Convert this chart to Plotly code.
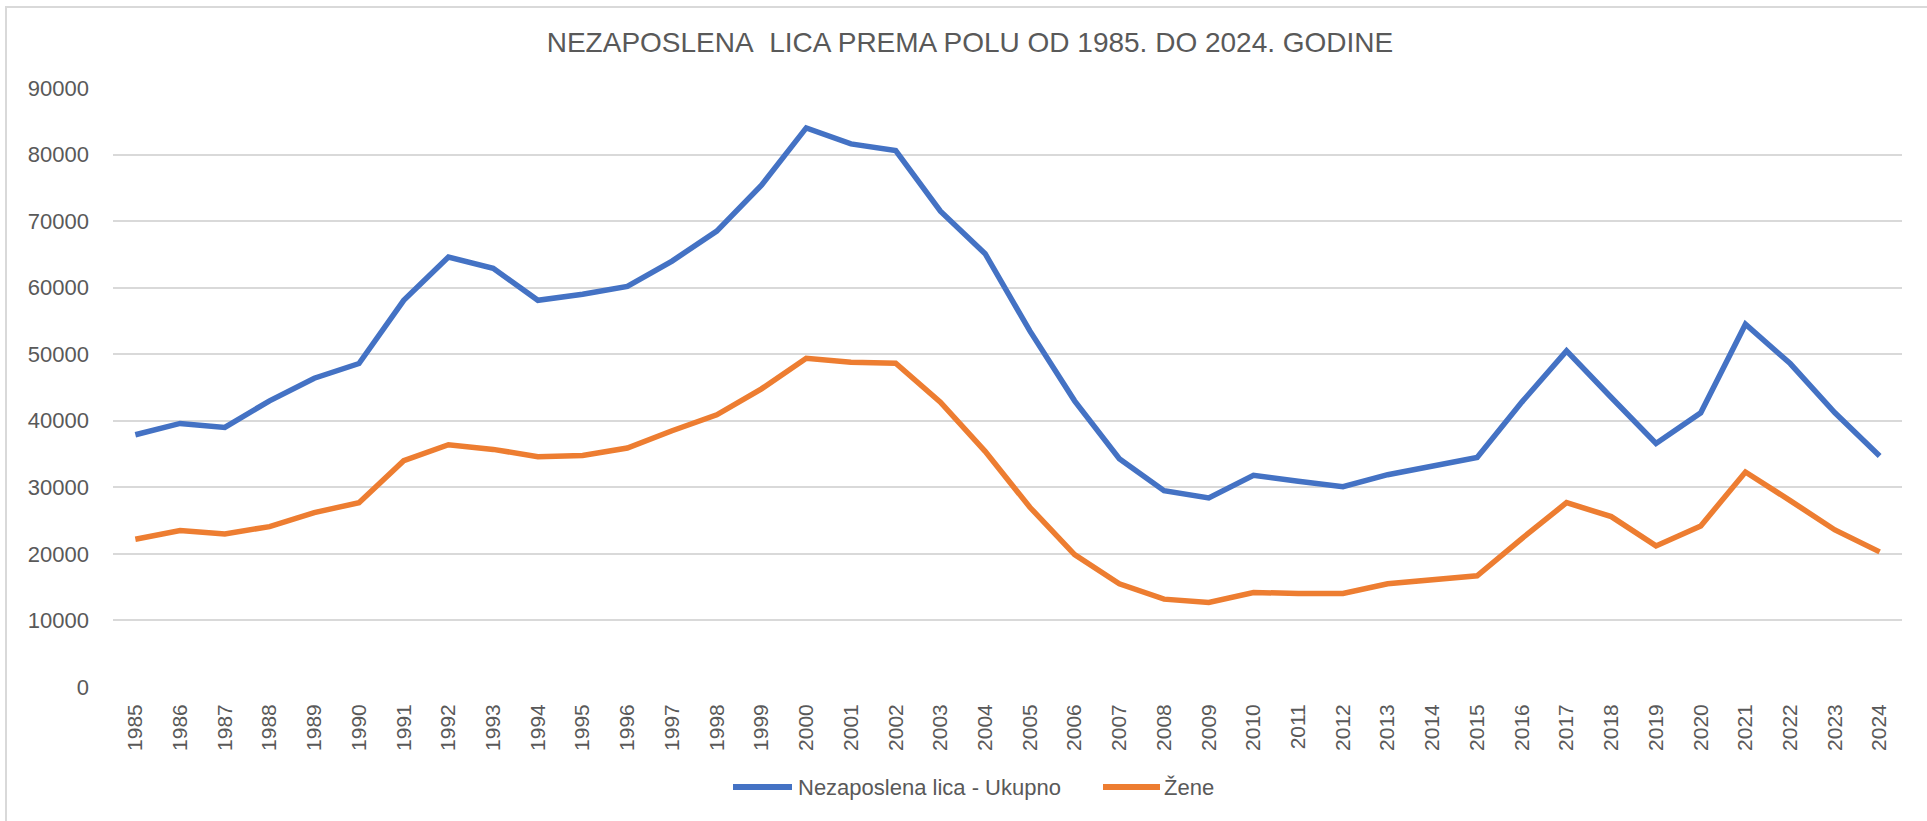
import plotly.graph_objects as go

years = [str(y) for y in range(1985, 2025)]

ukupno = [37900, 39600, 39000, 43000, 46400, 48600, 58100, 64600, 62900, 58100,
          59000, 60200, 64000, 68500, 75400, 84000, 81600, 80600, 71500, 65100,
          53500, 43000, 34300, 29500, 28400, 31800, 30900, 30100, 31900, 33300,
          34500, 42800, 50500, 43500, 36600, 41200, 54500, 48600, 41200, 34700]

zene = [22200, 23500, 23000, 24100, 26200, 27700, 34000, 36400, 35700, 34600,
        34800, 35900, 38500, 40900, 44800, 49400, 48800, 48650, 42800, 35400,
        27000, 19900, 15500, 13200, 12700, 14200, 14050, 14050, 15500, 16000,
        16700, 22300, 27700, 25600, 21200, 24200, 32300, 28000, 23600, 20300]

series_names = ["Nezaposlena lica - Ukupno", "Žene"]
colors = ["#4472C4", "#ED7D31"]

W, H = 1927, 821
L, R, T, B = 113, 1902, 88, 687

txt = "#595959"
font = "Liberation Sans, Arial"


def px(x):
    return (x - L) / (R - L)


def py(y):
    return (B - y) / (B - T)


fig = go.Figure()
for name, vals, c in zip(series_names, [ukupno, zene], colors):
    fig.add_trace(go.Scatter(x=years, y=vals, name=name, mode="lines",
                             line=dict(color=c, width=5.5, shape="linear"),
                             hoverinfo="x+y", showlegend=False))

# legend drawn manually (line key + text) to match the reference layout
legend_y = 787
legend_items = [(733, 792, 796), (1103, 1160, 1162)]
shapes = [dict(type="rect", xref="paper", yref="paper",
               x0=px(6), x1=px(W + 20), y0=py(H + 20), y1=py(7),
               line=dict(color="#D9D9D9", width=2), fillcolor="rgba(0,0,0,0)",
               layer="below")]
annotations = []
for (x0, x1, xt), name, c in zip(legend_items, series_names, colors):
    shapes.append(dict(type="line", xref="paper", yref="paper",
                       x0=px(x0), x1=px(x1), y0=py(legend_y), y1=py(legend_y),
                       line=dict(color=c, width=6)))
    annotations.append(dict(text=name, xref="paper", yref="paper",
                            x=px(xt), y=py(legend_y), xanchor="left",
                            yanchor="middle", showarrow=False,
                            font=dict(family=font, size=22, color=txt)))

fig.update_layout(
    width=W, height=H,
    margin=dict(l=L, r=W - R, t=T, b=H - B, pad=0, autoexpand=False),
    paper_bgcolor="white", plot_bgcolor="white",
    title=dict(text="NEZAPOSLENA&nbsp;&nbsp;LICA PREMA POLU OD 1985. DO 2024. GODINE",
               x=((549 + 1391) / 2) / W, xanchor="center",
               y=1 - 42 / H, yanchor="middle", yref="container",
               font=dict(family=font, size=28, color=txt)),
    xaxis=dict(type="category", range=[-0.5, 39.5], tickangle=-90,
               showgrid=False, showline=False, zeroline=False, ticks="",
               tickfont=dict(family=font, size=21, color=txt),
               ticklabelstandoff=12, automargin=False),
    yaxis=dict(range=[0, 90000], dtick=10000, tickformat="d",
               showgrid=True, gridcolor="#D9D9D9", gridwidth=2,
               zeroline=False, showline=False, ticks="",
               tickfont=dict(family=font, size=22, color=txt),
               ticklabelstandoff=23, automargin=False),
    showlegend=False,
    shapes=shapes,
    annotations=annotations,
)

fig.write_html("out.html",
               config={"displayModeBar": False},
               post_script="document.body.style.margin='0';document.body.style.padding='0';")
